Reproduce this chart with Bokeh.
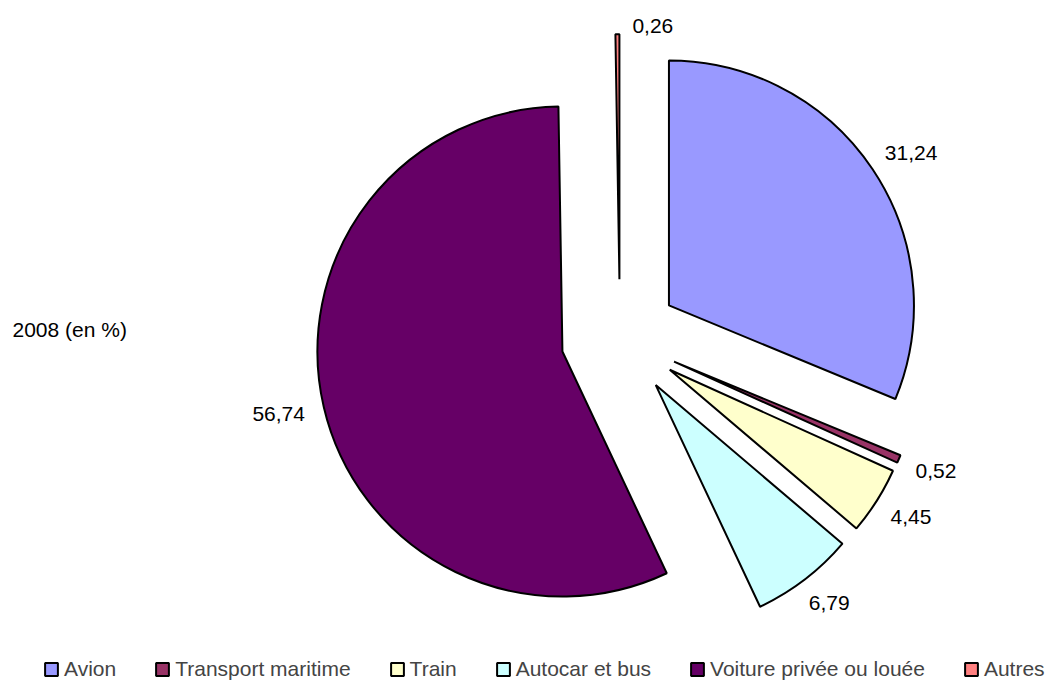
import math
from bokeh.plotting import figure
from bokeh.models import ColumnDataSource, Range1d, Legend, LegendItem
from bokeh.core.properties import value
from bokeh.embed import file_html
from bokeh.resources import INLINE

# ---- data ----
categories = ["Avion", "Transport maritime", "Train", "Autocar et bus",
              "Voiture privée ou louée", "Autres"]
shares = [31.24, 0.52, 4.45, 6.79, 56.74, 0.26]
labels = ["31,24", "0,52", "4,45", "6,79", "56,74", "0,26"]
colors = ["#9999FF", "#993366", "#FFFFCC", "#CCFFFF", "#660066", "#FF8080"]
title_text = "2008 (en %)"

# ---- layout (pixel-like data units) ----
W, H = 1056, 681
CX, CY = 619.4, 343.3      # pie centre
R = 245                    # pie radius
EXPLODE = 59               # explosion distance of every slice
FONT = "Liberation Sans"
FS = 21

total = sum(shares)
xs, ys, starts, ends, lx, ly = [], [], [], [], [], []
cum = 0.0
for v, lab in zip(shares, labels):
    a0 = math.pi / 2 - 2 * math.pi * cum / total
    a1 = a0 - 2 * math.pi * v / total
    mid = (a0 + a1) / 2
    dx, dy = math.cos(mid), math.sin(mid)
    vx, vy = CX + EXPLODE * dx, CY + EXPLODE * dy
    xs.append(vx); ys.append(vy)
    starts.append(a1); ends.append(a0)
    # label position: box just outside the arc
    hw = (sum(0.278 if c == "," else 0.556 for c in lab) * FS) / 2
    hh = 10
    tx = vx + (R + 20) * dx + dx * hw
    ty = vy + (R + 20) * dy + dy * hh
    if ty + hh > H - 15:          # would leave the chart: put it beside the tip
        ty = H - 25
        tx = vx + 13 + hw
    lx.append(tx); ly.append(ty)
    cum += v

src = ColumnDataSource(dict(x=xs, y=ys, start=starts, end=ends, color=colors,
                            cat=categories))
lsrc = ColumnDataSource(dict(x=lx, y=ly, text=labels))

p = figure(width=W, height=H, output_backend="svg", toolbar_location=None,
           x_range=Range1d(0, W), y_range=Range1d(0, H),
           x_axis_type=None, y_axis_type=None, min_border=0,
           outline_line_color=None, background_fill_color="white")
p.grid.visible = False

r = p.wedge(x="x", y="y", radius=R, start_angle="start", end_angle="end",
            direction="anticlock", fill_color="color", line_color="black",
            line_width=2, source=src)

p.text(x="x", y="y", text="text", source=lsrc, text_align="center",
       text_baseline="middle", text_font=value(FONT),
       text_font_size=f"{FS}px", text_color="black")

p.text(x=[12], y=[352], text=[title_text], text_align="left",
       text_baseline="middle", text_font=value(FONT),
       text_font_size=f"{FS}px", text_color="black")

items = [LegendItem(label=c, renderers=[r], index=i)
         for i, c in enumerate(categories)]
legend = Legend(items=items, orientation="horizontal", location=(43, 0),
                glyph_width=16, glyph_height=16, label_standoff=5, spacing=38,
                padding=0, margin=0, border_line_color=None,
                background_fill_alpha=0, label_text_font=FONT,
                label_text_font_size=f"{FS}px", label_height=16)
p.add_layout(legend, "center")

open("out.html", "w").write(file_html(p, INLINE))
